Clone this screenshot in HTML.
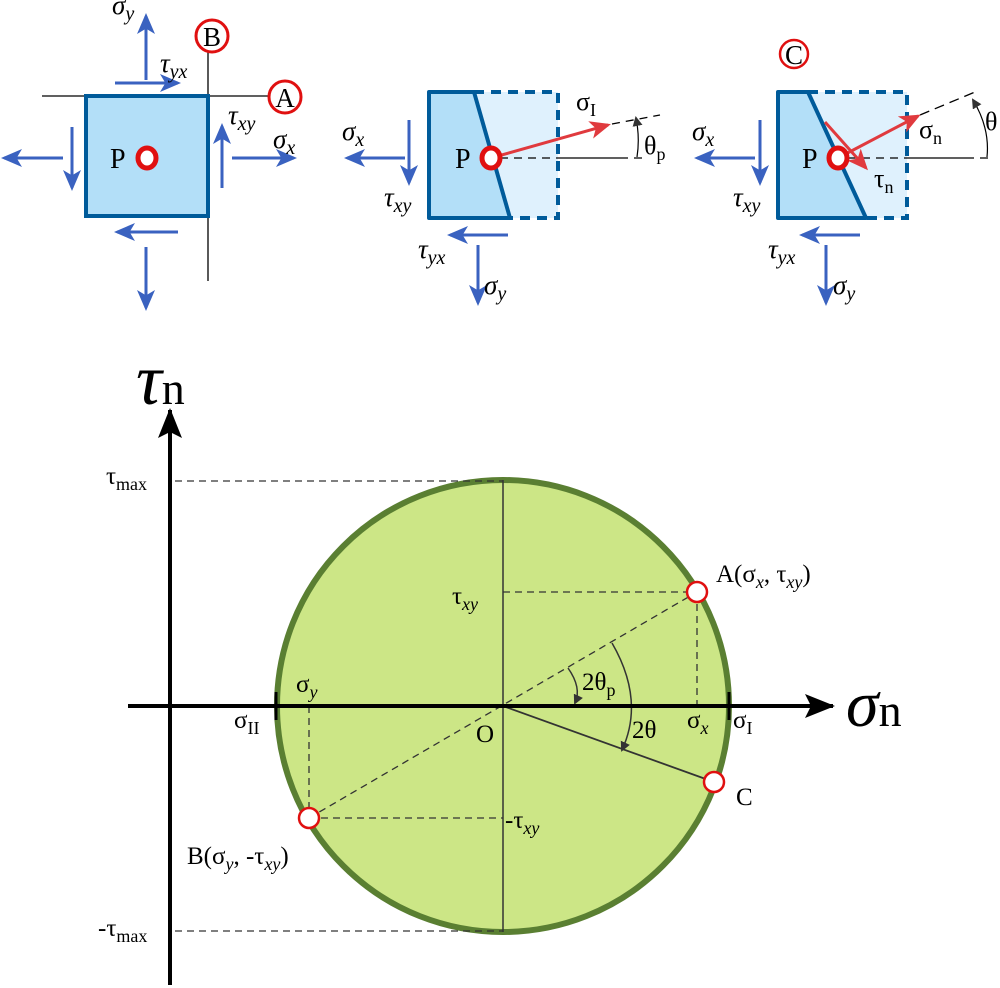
<!DOCTYPE html>
<html><head><meta charset="utf-8"><style>
html,body{margin:0;padding:0;background:#fff}
svg{display:block}
text{font-family:"Liberation Serif",serif;fill:#000}
</style></head><body>
<svg width="1000" height="988" viewBox="0 0 1000 988" xmlns="http://www.w3.org/2000/svg">
<defs>
<marker id="bl" markerWidth="7" markerHeight="6" refX="6" refY="3" orient="auto" markerUnits="strokeWidth"><path d="M0,0 L7,3 L0,6 L1.8,3 z" fill="#3a62c0"/></marker>
<marker id="rd" markerWidth="7" markerHeight="6" refX="6" refY="3" orient="auto" markerUnits="strokeWidth"><path d="M0,0 L7,3 L0,6 L1.8,3 z" fill="#e03a3e"/></marker>
<marker id="bk" markerWidth="10" markerHeight="10" refX="8" refY="5" orient="auto" markerUnits="userSpaceOnUse"><path d="M0,0 L10,5 L0,10 z" fill="#333"/></marker>
<marker id="ax" markerWidth="30" markerHeight="24" refX="28" refY="12" orient="auto" markerUnits="userSpaceOnUse"><path d="M0,0 L30,12 L0,24 L6,12 z" fill="#000"/></marker>
</defs>

<!-- top-left element -->
<line x1="42" y1="96" x2="270" y2="96" stroke="#000" stroke-width="1.3"/>
<line x1="208" y1="52" x2="208" y2="281" stroke="#000" stroke-width="1.3"/>
<rect x="86" y="96" width="122" height="120" fill="#b3dff8" stroke="#005b9a" stroke-width="4"/>
<circle cx="212" cy="36" r="16" fill="#fff" stroke="#e01010" stroke-width="3"/>
<text x="212" y="46" font-size="27" text-anchor="middle">B</text>
<circle cx="285" cy="97" r="16" fill="#fff" stroke="#e01010" stroke-width="3"/>
<text x="285" y="107" font-size="27" text-anchor="middle">A</text>
<text x="110" y="168" font-size="28">P</text>
<ellipse cx="147" cy="158" rx="9" ry="10" fill="#fff" stroke="#e01010" stroke-width="5"/>
<g stroke="#3a62c0" stroke-width="3" fill="none" marker-end="url(#bl)">
<line x1="146" y1="80" x2="146" y2="16"/>
<line x1="115" y1="83" x2="178" y2="83"/>
<line x1="63" y1="158" x2="4" y2="158"/>
<line x1="72" y1="127" x2="72" y2="188"/>
<line x1="222" y1="188" x2="222" y2="126"/>
<line x1="232" y1="158" x2="294" y2="158"/>
<line x1="178" y1="232" x2="117" y2="232"/>
<line x1="146" y1="247" x2="146" y2="308"/>
</g>
<text x="112" y="14" font-size="27" font-style="italic">σ<tspan font-size="20" dy="6">y</tspan></text>
<text x="160" y="72" font-size="27" font-style="italic">τ<tspan font-size="20" dy="6">yx</tspan></text>
<text x="228" y="124" font-size="27" font-style="italic">τ<tspan font-size="20" dy="6">xy</tspan></text>
<text x="273" y="148" font-size="27" font-style="italic">σ<tspan font-size="20" dy="6">x</tspan></text>

<!-- middle element -->
<rect x="429" y="92" width="129" height="126" fill="#dff1fd"/>
<polygon points="429,92 474,92 510,218 429,218" fill="#b3dff8" stroke="#005b9a" stroke-width="4" stroke-linejoin="round"/>
<polyline points="474,92 558,92 558,218 510,218" fill="none" stroke="#005b9a" stroke-width="4" stroke-dasharray="10,7"/>
<line x1="500" y1="158" x2="558" y2="158" stroke="#000" stroke-width="1.3" stroke-dasharray="8,6"/>
<line x1="558" y1="158" x2="620" y2="158" stroke="#000" stroke-width="1.3"/>
<line x1="620" y1="158" x2="644" y2="158" stroke="#000" stroke-width="1.3" stroke-dasharray="8,6"/>
<line x1="612" y1="124" x2="660" y2="115" stroke="#000" stroke-width="1.3" stroke-dasharray="8,6"/>
<line x1="491" y1="158" x2="608" y2="125" stroke="#e03a3e" stroke-width="3" marker-end="url(#rd)"/>
<path d="M637,157 Q640,138 636,118" fill="none" stroke="#000" stroke-width="1.2" marker-end="url(#bk)"/>
<text x="455" y="168" font-size="28">P</text>
<ellipse cx="491" cy="158" rx="9" ry="10" fill="#fff" stroke="#e01010" stroke-width="5"/>
<text x="576" y="110" font-size="26">σ<tspan font-size="18" dy="6">I</tspan></text>
<text x="644" y="154" font-size="26">θ<tspan font-size="18" dy="6">p</tspan></text>
<g stroke="#3a62c0" stroke-width="3" fill="none" marker-end="url(#bl)">
<line x1="405" y1="158" x2="347" y2="158"/>
<line x1="409" y1="120" x2="409" y2="183"/>
<line x1="508" y1="235" x2="450" y2="235"/>
<line x1="478" y1="245" x2="478" y2="303"/>
</g>
<text x="342" y="140" font-size="27" font-style="italic">σ<tspan font-size="20" dy="6">x</tspan></text>
<text x="384" y="206" font-size="27" font-style="italic">τ<tspan font-size="20" dy="6">xy</tspan></text>
<text x="418" y="258" font-size="27" font-style="italic">τ<tspan font-size="20" dy="6">yx</tspan></text>
<text x="484" y="294" font-size="27" font-style="italic">σ<tspan font-size="20" dy="6">y</tspan></text>

<!-- right element -->
<rect x="778" y="92" width="129" height="126" fill="#dff1fd"/>
<polygon points="778,92 808,92 866,218 778,218" fill="#b3dff8" stroke="#005b9a" stroke-width="4" stroke-linejoin="round"/>
<polyline points="808,92 907,92 907,218 866,218" fill="none" stroke="#005b9a" stroke-width="4" stroke-dasharray="10,7"/>
<circle cx="794" cy="54" r="14" fill="#fff" stroke="#e01010" stroke-width="2.5"/>
<text x="794" y="64" font-size="27" text-anchor="middle">C</text>
<line x1="848" y1="158" x2="907" y2="158" stroke="#000" stroke-width="1.3" stroke-dasharray="8,6"/>
<line x1="907" y1="158" x2="966" y2="158" stroke="#000" stroke-width="1.3"/>
<line x1="966" y1="158" x2="990" y2="158" stroke="#000" stroke-width="1.3" stroke-dasharray="8,6"/>
<line x1="920" y1="115" x2="975" y2="92" stroke="#000" stroke-width="1.3" stroke-dasharray="10,6"/>
<line x1="838" y1="158" x2="918" y2="116" stroke="#e03a3e" stroke-width="3" marker-end="url(#rd)"/>
<line x1="825" y1="122" x2="866" y2="168" stroke="#e03a3e" stroke-width="3" marker-end="url(#rd)"/>
<path d="M987,157 Q990,128 973,100" fill="none" stroke="#000" stroke-width="1.2" marker-end="url(#bk)"/>
<text x="802" y="168" font-size="28">P</text>
<ellipse cx="838" cy="158" rx="9" ry="10" fill="#fff" stroke="#e01010" stroke-width="5"/>
<text x="919" y="138" font-size="26">σ<tspan font-size="18" dy="6">n</tspan></text>
<text x="874" y="187" font-size="26">τ<tspan font-size="18" dy="6">n</tspan></text>
<text x="985" y="130" font-size="26">θ</text>
<g stroke="#3a62c0" stroke-width="3" fill="none" marker-end="url(#bl)">
<line x1="755" y1="158" x2="697" y2="158"/>
<line x1="760" y1="120" x2="760" y2="183"/>
<line x1="860" y1="235" x2="802" y2="235"/>
<line x1="826" y1="245" x2="826" y2="303"/>
</g>
<text x="692" y="140" font-size="27" font-style="italic">σ<tspan font-size="20" dy="6">x</tspan></text>
<text x="733" y="206" font-size="27" font-style="italic">τ<tspan font-size="20" dy="6">xy</tspan></text>
<text x="768" y="258" font-size="27" font-style="italic">τ<tspan font-size="20" dy="6">yx</tspan></text>
<text x="833" y="294" font-size="27" font-style="italic">σ<tspan font-size="20" dy="6">y</tspan></text>

<!-- Mohr circle -->
<circle cx="503" cy="706" r="226" fill="#cce686" stroke="#5a7f32" stroke-width="6"/>
<line x1="503" y1="480" x2="503" y2="932" stroke="#333" stroke-width="1.5"/>
<g stroke="#333" stroke-width="1.3" stroke-dasharray="7,5" fill="none">
<line x1="175" y1="481" x2="503" y2="481"/>
<line x1="175" y1="931" x2="503" y2="931"/>
<line x1="309" y1="818" x2="697" y2="592"/>
<line x1="503" y1="592" x2="697" y2="592"/>
<line x1="697" y1="592" x2="697" y2="706"/>
<line x1="309" y1="818" x2="503" y2="818"/>
<line x1="309" y1="706" x2="309" y2="818"/>
</g>
<line x1="503" y1="706" x2="714" y2="782" stroke="#333" stroke-width="1.8"/>
<path d="M568,668 Q582,688 575,703" fill="none" stroke="#333" stroke-width="1.5" marker-end="url(#bk)"/>
<path d="M612,643 Q645,700 622,750" fill="none" stroke="#333" stroke-width="1.5" marker-end="url(#bk)"/>
<line x1="128" y1="706" x2="833" y2="706" stroke="#000" stroke-width="4" marker-end="url(#ax)"/>
<line x1="170" y1="985" x2="170" y2="410" stroke="#000" stroke-width="4" marker-end="url(#ax)"/>
<line x1="276" y1="692" x2="276" y2="720" stroke="#000" stroke-width="3"/>
<line x1="729" y1="692" x2="729" y2="720" stroke="#000" stroke-width="3"/>
<circle cx="697" cy="592" r="10" fill="#fff" stroke="#e01010" stroke-width="2.5"/>
<circle cx="309" cy="818" r="10" fill="#fff" stroke="#e01010" stroke-width="2.5"/>
<circle cx="714" cy="782" r="10" fill="#fff" stroke="#e01010" stroke-width="2.5"/>
<text x="136" y="404" font-size="72" font-style="italic">τ<tspan font-style="normal" font-size="46">n</tspan></text>
<text x="846" y="726" font-size="66" font-style="italic">σ<tspan font-style="normal" font-size="46">n</tspan></text>
<text x="106" y="484" font-size="25">τ<tspan font-size="18" dy="6">max</tspan></text>
<text x="98" y="936" font-size="25">-τ<tspan font-size="18" dy="6">max</tspan></text>
<text x="452" y="604" font-size="25">τ<tspan font-size="18" dy="6" font-style="italic">xy</tspan></text>
<text x="505" y="828" font-size="25">-τ<tspan font-size="18" dy="6" font-style="italic">xy</tspan></text>
<text x="296" y="692" font-size="25">σ<tspan font-size="18" dy="6" font-style="italic">y</tspan></text>
<text x="687" y="728" font-size="25">σ<tspan font-size="18" dy="6" font-style="italic">x</tspan></text>
<text x="234" y="728" font-size="25">σ<tspan font-size="18" dy="6">II</tspan></text>
<text x="733" y="728" font-size="25">σ<tspan font-size="18" dy="6">I</tspan></text>
<text x="476" y="742" font-size="25">O</text>
<text x="582" y="690" font-size="25">2θ<tspan font-size="18" dy="6">p</tspan></text>
<text x="632" y="738" font-size="25">2θ</text>
<text x="716" y="582" font-size="25">A(σ<tspan font-size="18" dy="6" font-style="italic">x</tspan><tspan dy="-6">, τ</tspan><tspan font-size="18" dy="6" font-style="italic">xy</tspan><tspan dy="-6">)</tspan></text>
<text x="736" y="805" font-size="25">C</text>
<text x="187" y="864" font-size="25">B(σ<tspan font-size="18" dy="6" font-style="italic">y</tspan><tspan dy="-6">, -τ</tspan><tspan font-size="18" dy="6" font-style="italic">xy</tspan><tspan dy="-6">)</tspan></text>
</svg>
</body></html>
